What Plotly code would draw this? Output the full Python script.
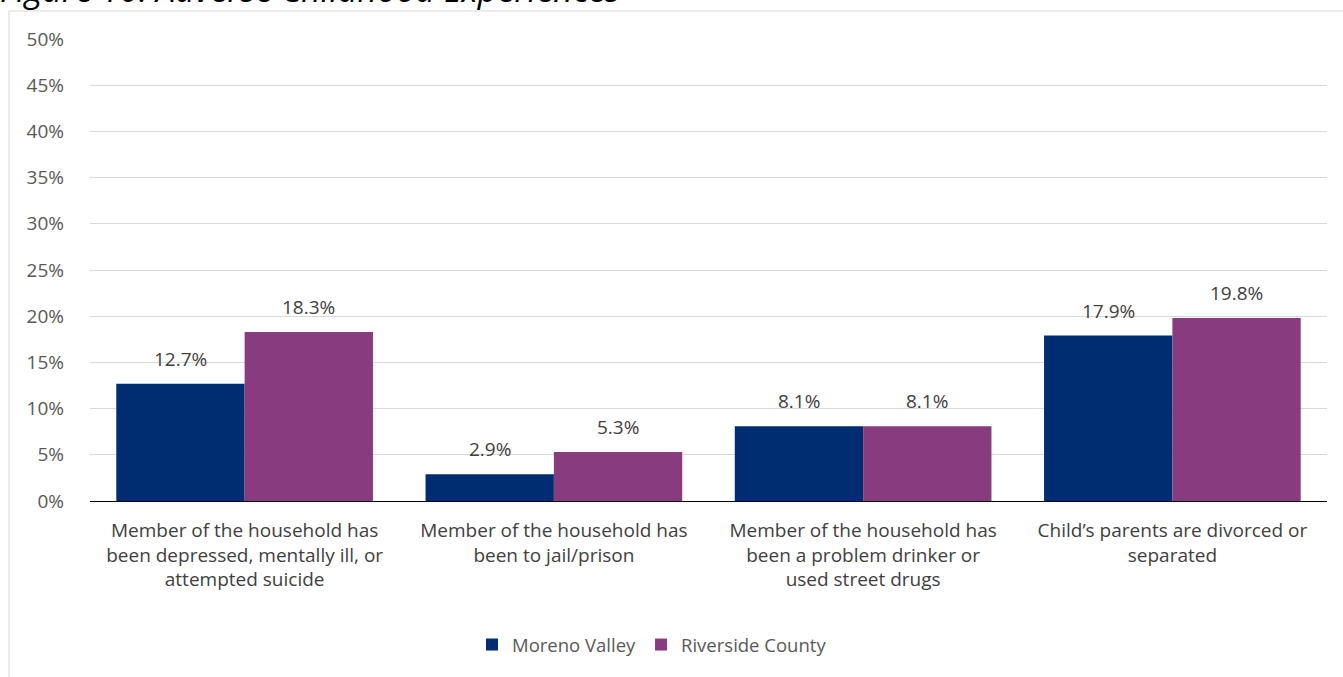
import plotly.graph_objects as go

categories = [
    "Member of the household has<br>been depressed, mentally ill, or<br>attempted suicide",
    "Member of the household has<br>been to jail/prison",
    "Member of the household has<br>been a problem drinker or<br>used street drugs",
    "Child\u2019s parents are divorced or<br>separated",
]
moreno_valley = [12.7, 2.9, 8.1, 17.9]
riverside_county = [18.3, 5.3, 8.1, 19.8]
y_ticks = [0, 5, 10, 15, 20, 25, 30, 35, 40, 45, 50]

W, H = 1343, 677
L, R, T, B = 90, 16, 39, 176
pw = W - L - R
ph = H - T - B
BARGAP = 0.17

def px2x(p):
    return (p - L) / pw

def py2y(p):
    return (H - B - p) / ph

font = "'Open Sans', sans-serif"
FS = 19

fig = go.Figure()
fig.add_bar(x=categories, y=moreno_valley, name="Moreno Valley",
            marker=dict(color="#002D72", line=dict(width=0)))
fig.add_bar(x=categories, y=riverside_county, name="Riverside County",
            marker=dict(color="#893B7F", line=dict(width=0)))

# data labels, placed via the axis scales (category + value)
cat_px = pw / len(categories)
offset = cat_px * (1 - BARGAP) / 4
annotations = []
for series, sign in ((moreno_valley, -1), (riverside_county, 1)):
    for c, v in zip(categories, series):
        annotations.append(dict(x=c, y=v, xref="x", yref="y", text=f"{v:.1f}%",
                                showarrow=False, xshift=sign * offset, yshift=25,
                                xanchor="center", yanchor="middle",
                                font=dict(size=FS, color="#404040")))

annotations.append(dict(text="<i>Figure 10: Adverse Childhood Experiences</i>",
                        xref="paper", yref="paper", x=px2x(-2), y=py2y(14),
                        xanchor="left", yanchor="bottom", showarrow=False,
                        font=dict(size=34, color="#000000")))

fig.update_layout(
    width=W, height=H,
    margin=dict(l=L, r=R, t=T, b=B),
    paper_bgcolor="white", plot_bgcolor="white",
    barmode="group", bargap=BARGAP, bargroupgap=0,
    font=dict(family=font, size=FS, color="#404040"),
    showlegend=True,
    legend=dict(orientation="h", x=px2x(472), xanchor="left",
                y=py2y(645), yanchor="middle",
                font=dict(size=18.5, color="#595959"), itemwidth=30,
                traceorder="normal"),
    xaxis=dict(showgrid=False, showline=True, linecolor="#000000", linewidth=1,
               ticks="", ticklabelstandoff=12,
               tickfont=dict(size=FS, color="#404040")),
    yaxis=dict(range=[0, 50], tickvals=y_ticks,
               ticktext=[f"{v}%" for v in y_ticks],
               showgrid=True, gridcolor="#d9d9d9", gridwidth=1,
               zeroline=False, showline=False, ticks="",
               ticklabelstandoff=25,
               tickfont=dict(size=FS, color="#595959")),
    shapes=[dict(type="rect", xref="paper", yref="paper",
                 x0=px2x(9), x1=px2x(1350), y0=py2y(690), y1=py2y(11),
                 line=dict(color="#d9d9d9", width=1), fillcolor="rgba(0,0,0,0)",
                 layer="below")],
    annotations=annotations,
)

fig.write_html("out.html")
